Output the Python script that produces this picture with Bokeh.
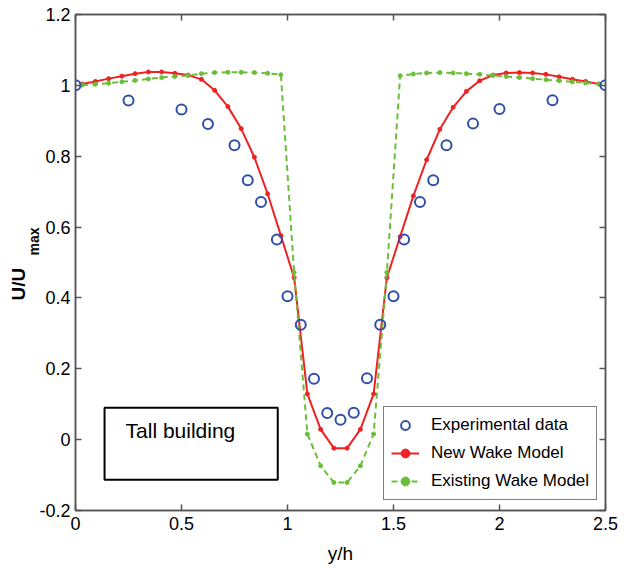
from bokeh.plotting import figure
from bokeh.models import (Legend, LegendItem, Label, BoxAnnotation, LinearAxis,
                          FixedTicker, Range1d, Title)
from bokeh.embed import file_html
from bokeh.resources import INLINE

# ---------------- data ----------------
exp_x = [0.0, 0.25, 0.5, 0.625, 0.75, 0.8125, 0.875, 0.95, 1.0, 1.0625, 1.125,
         1.1875, 1.25, 1.3125, 1.375, 1.4375, 1.5, 1.55, 1.625, 1.6875, 1.75,
         1.875, 2.0, 2.25, 2.5]
exp_y = [1.0, 0.957, 0.932, 0.891, 0.831, 0.732, 0.671, 0.565, 0.405, 0.324,
         0.172, 0.075, 0.056, 0.076, 0.173, 0.324, 0.405, 0.565, 0.671, 0.732,
         0.831, 0.892, 0.933, 0.958, 1.0]

model_x = [0.03125, 0.09375, 0.15625, 0.21875, 0.28125, 0.34375, 0.40625,
           0.46875, 0.53125, 0.59375, 0.65625, 0.71875, 0.78125, 0.84375,
           0.90625, 0.96875, 1.03125, 1.09375, 1.15625, 1.21875, 1.28125,
           1.34375, 1.40625, 1.46875, 1.53125, 1.59375, 1.65625, 1.71875,
           1.78125, 1.84375, 1.90625, 1.96875, 2.03125, 2.09375, 2.15625,
           2.21875, 2.28125, 2.34375, 2.40625, 2.46875]

new_model_y = [1.004, 1.011, 1.019, 1.026, 1.033, 1.038, 1.038, 1.034, 1.029,
               1.017, 0.986, 0.940, 0.878, 0.797, 0.694, 0.576, 0.457, 0.129,
               0.029, -0.024, -0.024, 0.029, 0.129, 0.457, 0.573, 0.688, 0.790,
               0.876, 0.938, 0.983, 1.013, 1.029, 1.035, 1.036, 1.035, 1.031,
               1.024, 1.017, 1.011, 1.004]

existing_model_y = [1.001, 1.003, 1.006, 1.010, 1.014, 1.018, 1.022, 1.025,
                    1.028, 1.033, 1.036, 1.037, 1.037, 1.036, 1.034, 1.030,
                    0.472, 0.016, -0.074, -0.121, -0.121, -0.074, 0.016, 0.472,
                    1.027, 1.032, 1.035, 1.036, 1.035, 1.033, 1.031, 1.028,
                    1.025, 1.022, 1.019, 1.016, 1.013, 1.010, 1.007, 1.003]

x_ticks = [0.0, 0.5, 1.0, 1.5, 2.0, 2.5]
x_tick_labels = ["0", "0.5", "1", "1.5", "2", "2.5"]
y_ticks = [-0.2, 0.0, 0.2, 0.4, 0.6, 0.8, 1.0, 1.2]
y_tick_labels = ["-0.2", "0", "0.2", "0.4", "0.6", "0.8", "1", "1.2"]

series_names = ["Experimental data", "New Wake Model", "Existing Wake Model"]
x_label = "y/h"
y_label_main = "U/U"
y_label_sub = "max"
note_text = "Tall building"

# ---------------- style ----------------
FONT = "Liberation Sans"
AX = "#555555"
BLUE = "#2f4fa8"
RED = "#ee2222"
GREEN = "#6abf3a"

p = figure(width=624, height=568, x_range=Range1d(0, 2.5),
           y_range=Range1d(-0.2, 1.2), output_backend="svg",
           toolbar_location=None, min_border_left=75, min_border_right=19,
           min_border_top=14, min_border_bottom=58)
p.background_fill_color = "white"
p.border_fill_color = "white"
p.outline_line_color = AX
p.outline_line_width = 1.5
p.xgrid.visible = False
p.ygrid.visible = False

def style_axis(ax, ticks, labels, show_labels):
    ax.ticker = FixedTicker(ticks=ticks)
    ax.axis_line_color = AX
    ax.axis_line_width = 1.5
    ax.major_tick_line_color = AX
    ax.major_tick_line_width = 1.5
    ax.major_tick_in = 6
    ax.major_tick_out = 0
    ax.minor_tick_line_color = None
    ax.major_label_text_font = FONT
    if show_labels:
        ax.major_label_overrides = {t: l for t, l in zip(ticks, labels)}
        ax.major_label_text_color = "black"
        ax.major_label_text_font_size = "18px"
        ax.major_label_standoff = 6
    else:
        ax.major_label_text_color = None
        ax.major_label_text_font_size = "0px"
        ax.major_label_standoff = 0

style_axis(p.xaxis[0], x_ticks, x_tick_labels, True)
style_axis(p.yaxis[0], y_ticks, y_tick_labels, True)
p.yaxis[0].major_label_standoff = 5
p.xaxis[0].axis_label = x_label
p.xaxis[0].axis_label_text_font = FONT
p.xaxis[0].axis_label_text_font_size = "19px"
p.xaxis[0].axis_label_text_font_style = "normal"
p.xaxis[0].axis_label_text_color = "black"
p.xaxis[0].axis_label_standoff = 10

top_ax = LinearAxis()
style_axis(top_ax, x_ticks, x_tick_labels, False)
p.add_layout(top_ax, "above")
right_ax = LinearAxis()
style_axis(right_ax, y_ticks, y_tick_labels, False)
p.add_layout(right_ax, "right")

# y-axis label with subscript, as two side titles (inner: subscript)
sub_title = Title(text=y_label_sub, align="left", offset=255, standoff=-10,
                  text_font=FONT, text_font_style="bold",
                  text_font_size="14px", text_color="black")
main_title = Title(text=y_label_main, align="left", offset=210, standoff=0,
                   text_font=FONT, text_font_style="bold",
                   text_font_size="19px", text_color="black")
p.add_layout(sub_title, "left")
p.add_layout(main_title, "left")

# ---------------- glyphs ----------------
r_new_l = p.line(model_x, new_model_y, line_color=RED, line_width=2)
r_new_m = p.scatter(model_x, new_model_y, marker="circle", size=4,
                    fill_color=RED, line_color=RED)
r_old_l = p.line(model_x, existing_model_y, line_color=GREEN, line_width=2,
                 line_dash="6 4")
r_old_m = p.scatter(model_x, existing_model_y, marker="circle", size=4,
                    fill_color=GREEN, line_color=GREEN)
r_exp = p.scatter(exp_x, exp_y, marker="circle", size=10, fill_color=None,
                  line_color=BLUE, line_width=2)

legend = Legend(items=[
    LegendItem(label=series_names[0], renderers=[r_exp]),
    LegendItem(label=series_names[1], renderers=[r_new_l, r_new_m]),
    LegendItem(label=series_names[2], renderers=[r_old_l, r_old_m]),
], location=(308, 10))
legend.margin = 0
legend.padding = 7
legend.spacing = 6
legend.label_height = 22
legend.glyph_height = 22
legend.glyph_width = 28
legend.label_standoff = 12
legend.label_text_font = FONT
legend.label_text_font_size = "17px"
legend.label_text_color = "black"
legend.border_line_color = "black"
legend.border_line_width = 1.5
legend.background_fill_color = "white"
legend.background_fill_alpha = 1.0
p.add_layout(legend)

# ---------------- annotations ----------------
box = BoxAnnotation(left=0.137, right=0.954, top=0.090, bottom=-0.113,
                    fill_color=None, line_color="black", line_alpha=1.0,
                    line_width=2)
p.add_layout(box)
p.add_layout(Label(x=0.236, y=0.025, text=note_text,
                   text_font=FONT, text_font_size="21px",
                   text_color="black", text_align="left",
                   text_baseline="alphabetic"))

open("out.html", "w").write(file_html(p, INLINE))
